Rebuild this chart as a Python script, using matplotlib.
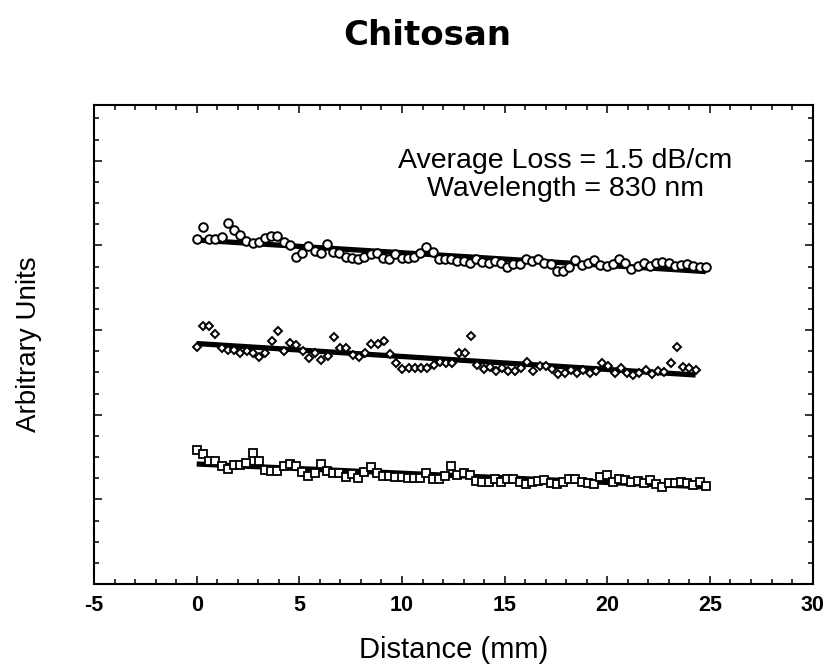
import numpy as np
import matplotlib
matplotlib.use("Agg")
import matplotlib.pyplot as plt
from matplotlib.ticker import MultipleLocator

plt.rcParams['font.family'] = ['Liberation Sans', 'DejaVu Sans']
plt.rcParams['axes.unicode_minus'] = False

# values (arbitrary units)
circle_y = [16.28, 16.85, 16.31, 16.31, 16.38, 17.04, 16.72, 16.49, 16.22, 16.09,
            16.15, 16.33, 16.44, 16.44, 16.17, 16.01, 15.46, 15.62, 15.97, 15.74,
            15.65, 16.06, 15.70, 15.65, 15.46, 15.38, 15.34, 15.46, 15.59, 15.62,
            15.41, 15.34, 15.59, 15.38, 15.38, 15.46, 15.65, 15.93, 15.70, 15.34,
            15.34, 15.34,
            15.27, 15.27, 15.18, 15.34, 15.23, 15.15, 15.27, 15.15, 14.99, 15.12,
            15.12, 15.34, 15.27, 15.34, 15.18, 15.12, 14.80, 14.80, 14.99, 15.30,
            15.07, 15.15, 15.30, 15.07, 15.02, 15.12, 15.34, 15.18, 14.86, 15.02,
            15.15, 15.02, 15.18, 15.23, 15.18, 15.02, 15.07, 15.12, 15.02, 14.99,
            14.96]
diamond_y = [11.18, 12.19, 12.19, 11.81, 11.13, 11.05, 11.05, 10.90, 11.02, 10.93,
             10.74, 10.93, 11.49, 11.97, 11.02, 11.40, 11.29, 11.02, 10.66, 10.93,
             10.58, 10.77, 11.68, 11.13, 11.13, 10.82, 10.71, 10.90, 11.34, 11.34,
             11.49, 10.86, 10.43, 10.14, 10.19, 10.19, 10.19, 10.19, 10.35, 10.50,
             10.43, 10.45, 10.90,
             10.90, 11.71, 10.35, 10.14, 10.24, 10.08, 10.19, 10.08, 10.08, 10.19,
             10.50, 10.08, 10.30, 10.30, 10.14, 9.92, 9.98, 10.11, 9.98, 10.11,
             9.98, 10.08, 10.42, 10.30, 9.98, 10.19, 9.98, 9.87, 9.95, 10.11,
             9.92, 10.08, 10.03, 10.45, 11.18, 10.27, 10.19, 10.11]
square_y = [6.33, 6.14, 5.83, 5.83, 5.57, 5.42, 5.62, 5.62, 5.70, 6.17,
            5.83, 5.39, 5.35, 5.35, 5.57, 5.67, 5.57, 5.31, 5.10, 5.23,
            5.67, 5.35, 5.23, 5.23, 5.04, 5.20, 4.99, 5.31, 5.54, 5.26,
            5.10, 5.10, 5.04, 5.04, 4.99, 4.99, 4.99, 5.23, 4.94, 4.94,
            5.10, 5.57, 5.15,
            5.26, 5.15, 4.88, 4.83, 4.83, 4.94, 4.83, 4.94, 4.94, 4.83,
            4.72, 4.83, 4.88, 4.91, 4.76, 4.72, 4.83, 4.94, 4.94, 4.83,
            4.76, 4.72, 5.07, 5.15, 4.83, 4.94, 4.91, 4.83, 4.88, 4.76,
            4.91, 4.72, 4.60, 4.76, 4.79, 4.83, 4.76, 4.68, 4.83, 4.63]

circle_end = 24.8
diamond_end = 24.3
square_end = 24.8

fig = plt.figure(figsize=(8.35, 6.66), dpi=100)
ax = fig.add_axes([0.1126, 0.1231, 0.8606, 0.7192])

series = [
    (circle_y, circle_end, 'o', 6.2, 1.4),
    (diamond_y, diamond_end, 'D', 4.2, 1.4),
    (square_y, square_end, 's', 5.8, 1.3),
]
for yvals, xend, mk, ms, mew in series:
    x = np.linspace(0, xend, len(yvals))
    slope, icpt = np.polyfit(x, yvals, 1)
    ax.plot(x, slope * x + icpt, color='black', lw=3.8, solid_capstyle='butt', zorder=2)
    ax.plot(x, yvals, ls='none', marker=mk, ms=ms, mfc='white', mec='black',
            mew=mew, zorder=3)

ax.set_xlim(-5, 30)
ax.set_ylim(0, 22.63)
ax.xaxis.set_major_locator(MultipleLocator(5))
ax.xaxis.set_minor_locator(MultipleLocator(1))
ax.yaxis.set_major_locator(MultipleLocator(4))
ax.yaxis.set_minor_locator(MultipleLocator(1))
ax.tick_params(which='both', direction='in', top=True, right=True, width=1.1)
ax.tick_params(which='major', length=6)
ax.tick_params(which='minor', length=3.5)
ax.tick_params(axis='x', which='major', pad=8, labelsize=15.5)
ax.tick_params(axis='y', labelleft=False)
for lbl in ax.get_xticklabels():
    lbl.set_fontweight('bold')
for sp in ax.spines.values():
    sp.set_linewidth(1.5)

ax.set_xlabel('Distance (mm)', fontsize=21, labelpad=14)
ax.set_ylabel('Arbitrary Units', fontsize=20, labelpad=34)
fig.text(0.512, 0.932, 'Chitosan', fontsize=24.5, fontweight='bold',
         family='DejaVu Sans', ha='center', va='baseline')

ax.text(0.656, 0.8685, 'Average Loss = 1.5 dB/cm', transform=ax.transAxes,
        ha='center', va='baseline', fontsize=20.5)
ax.text(0.656, 0.810, 'Wavelength = 830 nm', transform=ax.transAxes,
        ha='center', va='baseline', fontsize=20.5)

fig.savefig('out.png', dpi=100)
